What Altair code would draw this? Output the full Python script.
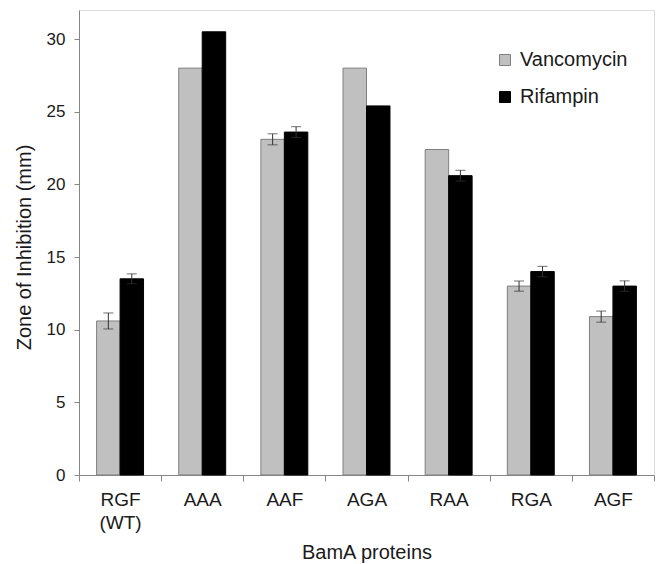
import altair as alt
import pandas as pd

proteins = ["RGF (WT)", "AAA", "AAF", "AGA", "RAA", "RGA", "AGF"]
series = ["Vancomycin", "Rifampin"]
vancomycin = [10.6, 28.0, 23.1, 28.0, 22.4, 13.0, 10.9]
vancomycin_err = [0.55, 0.0, 0.38, 0.0, 0.0, 0.35, 0.38]
rifampin = [13.5, 30.5, 23.6, 25.4, 20.6, 14.0, 13.0]
rifampin_err = [0.34, 0.0, 0.37, 0.0, 0.37, 0.36, 0.36]
y_ticks = [0, 5, 10, 15, 20, 25, 30]

rows = []
for name, vals, errs in [("Vancomycin", vancomycin, vancomycin_err),
                         ("Rifampin", rifampin, rifampin_err)]:
    for p, v, e in zip(proteins, vals, errs):
        rows.append({"protein": p, "series": name, "value": v, "err": e,
                     "lo": v - e, "hi": v + e})
df = pd.DataFrame(rows)

FONT = "Liberation Sans"
TXT = "#1a1a1a"
AXC = "#868686"

x_axis = alt.Axis(
    title="BamA proteins", titleFontSize=20, titleFont=FONT, titleFontWeight="normal",
    titleColor=TXT, titleY=83, titleBaseline="alphabetic",
    labelFontSize=19, labelFont=FONT, labelColor=TXT, labelAngle=0,
    labelExpr="datum.value == 'RGF (WT)' ? ['RGF', '(WT)'] : datum.label",
    labelLineHeight=23, labelBaseline="top", labelPadding=9,
    tickBand="extent", tickSize=6, tickColor=AXC, domainColor=AXC,
    grid=False,
)
y_axis = alt.Axis(
    title="Zone of Inhibition (mm)", titleFontSize=20, titleFont=FONT,
    titleFontWeight="normal", titleColor=TXT, titleX=-55, titleY=237,
    titleBaseline="middle",
    values=y_ticks, labelFontSize=17, labelFont=FONT, labelColor=TXT,
    labelPadding=9, tickSize=5, tickColor=AXC, domainColor=AXC, grid=False,
)

x_enc = alt.X("protein:N", sort=proteins, axis=x_axis,
              scale=alt.Scale(paddingInner=0, paddingOuter=0))
xo_enc = alt.XOffset("series:N", sort=series,
                     scale=alt.Scale(domain=series, paddingInner=0, paddingOuter=0.75))
y_scale = alt.Scale(domain=[0, 32], nice=False)

base = alt.Chart(df).encode(x=x_enc, xOffset=xo_enc)

bars = base.mark_bar(strokeWidth=1).encode(
    y=alt.Y("value:Q", scale=y_scale, axis=y_axis),
    color=alt.Color("series:N", scale=alt.Scale(domain=series, range=["#c0c0c0", "#000000"]),
                    legend=alt.Legend(title=None, orient="none", legendX=416, legendY=40,
                                      symbolType="square", symbolSize=121,
                                      symbolStrokeColor="#7f7f7f", symbolStrokeWidth=1,
                                      labelFontSize=20, labelFont=FONT, labelColor=TXT,
                                      labelOffset=5, rowPadding=17, padding=0)),
    stroke=alt.Stroke("series:N", scale=alt.Scale(domain=series, range=["#7f7f7f", "#000000"]),
                      legend=None),
)

err = base.transform_filter("datum.err > 0")
rule = err.mark_rule(color="#333333", strokeWidth=1).encode(
    y=alt.Y("lo:Q", scale=y_scale, axis=y_axis), y2="hi:Q")
cap_lo = err.mark_tick(color="#333333", size=10, thickness=1).encode(
    y=alt.Y("lo:Q", scale=y_scale, axis=y_axis))
cap_hi = err.mark_tick(color="#333333", size=10, thickness=1).encode(
    y=alt.Y("hi:Q", scale=y_scale, axis=y_axis))

chart = alt.layer(bars, rule, cap_lo, cap_hi).properties(
    width=575, height=465,
    autosize=alt.AutoSizeParams(type="none"),
    padding={"left": 79, "top": 10, "right": 11, "bottom": 89},
).configure_view(stroke=None).configure(background="white")

chart.save("out.html", embed_options={"renderer": "svg", "actions": False})
